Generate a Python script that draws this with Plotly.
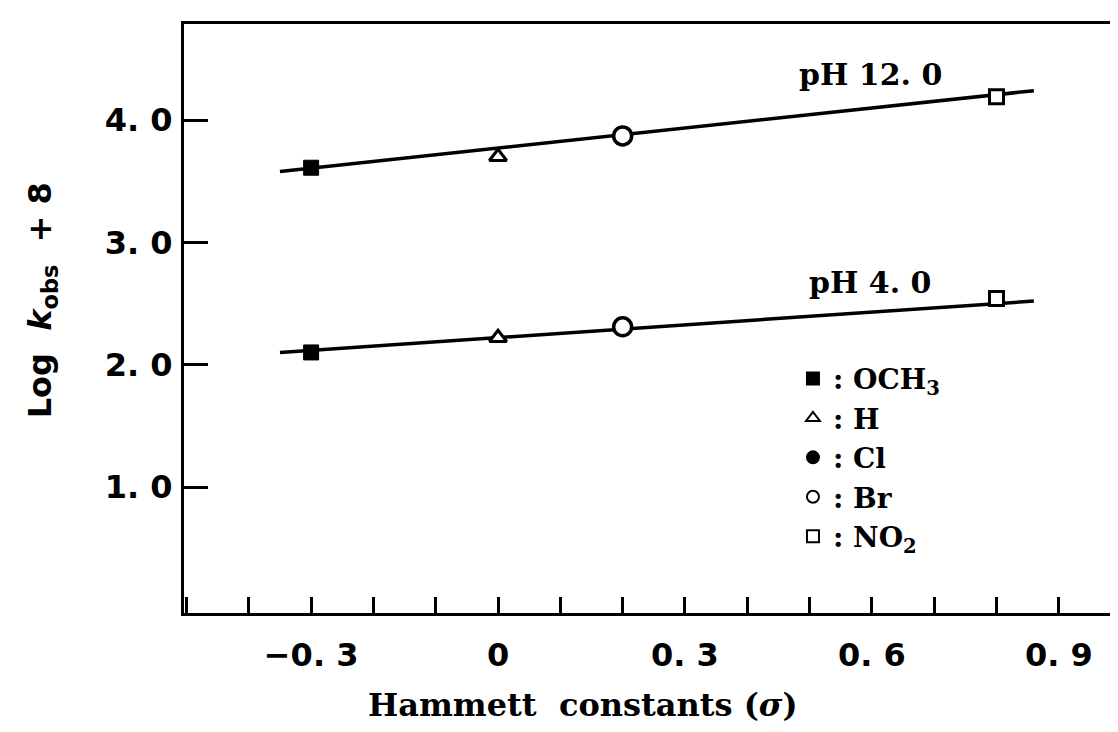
import plotly.graph_objects as go

# ---- data ----
substituents = ["OCH3", "H", "Cl", "Br", "NO2"]
legend_names = [": OCH<sub>3</sub>", ": H", ": Cl", ": Br", ": NO<sub>2</sub>"]
sigma_vals = [-0.30, 0.00, 0.20, 0.20, 0.80]
logk_ph12 = [3.61, 3.70, 3.87, 3.87, 4.19]
logk_ph4 = [2.10, 2.22, 2.31, 2.31, 2.54]

fit_sigma = [-0.35, 0.86]
fit_ph12 = [3.58, 4.24]
fit_ph4 = [2.10, 2.52]

x_tickvals = [-0.3, 0.0, 0.3, 0.6, 0.9]
x_ticktext = ["\u22120.\u00a03", "0", "0.\u00a03", "0.\u00a06", "0.\u00a09"]
y_tickvals = [1.0, 2.0, 3.0, 4.0]
y_ticktext = ["1.\u00a00", "2.\u00a00", "3.\u00a00", "4.\u00a00"]

# ---- styles ----
marker_styles = {
    "OCH3": dict(symbol="square", size=15, color="black", line=dict(color="black", width=1)),
    "H": dict(symbol="triangle-up", size=15, color="white", line=dict(color="black", width=3)),
    "Cl": dict(symbol="circle", size=18, color="black", line=dict(color="black", width=1)),
    "Br": dict(symbol="circle", size=18, color="white", line=dict(color="black", width=3.5)),
    "NO2": dict(symbol="square", size=14, color="white", line=dict(color="black", width=3)),
}

fig = go.Figure()

for yfit in (fit_ph12, fit_ph4):
    fig.add_trace(go.Scatter(x=fit_sigma, y=yfit, mode="lines",
                             line=dict(color="black", width=3.5),
                             showlegend=False, hoverinfo="skip"))

for i, sub in enumerate(substituents):
    fig.add_trace(go.Scatter(
        x=[sigma_vals[i], sigma_vals[i]],
        y=[logk_ph12[i], logk_ph4[i]],
        mode="markers",
        name=legend_names[i],
        marker=marker_styles[sub],
    ))

serif = "DejaVu Serif"
sans = "DejaVu Sans"

fig.add_annotation(x=0.597, y=4.37, xref="x", yref="y", text="<b>pH 12.\u00a00</b>",
                   showarrow=False, font=dict(family=serif, size=30, color="black"))
fig.add_annotation(x=0.597, y=2.67, xref="x", yref="y", text="<b>pH 4.\u00a00</b>",
                   showarrow=False, font=dict(family=serif, size=30, color="black"))

# axis titles
fig.add_annotation(x=0.427, y=-0.156, xref="paper", yref="paper",
                   xanchor="center", yanchor="middle",
                   text="<b>Hammett\u00a0\u00a0constants (<i>σ</i>)</b>",
                   showarrow=False, font=dict(family=serif, size=32, color="black"))
fig.add_annotation(x=-0.152, y=0.531, xref="paper", yref="paper",
                   xanchor="center", yanchor="middle",
                   text="<b>Log\u00a0 <i>k</i><sub>obs</sub>\u00a0 + 8</b>", textangle=-90,
                   showarrow=False, font=dict(family=sans, size=32, color="black"))

fig.update_layout(
    width=1110, height=724,
    margin=dict(l=176, r=0, t=16, b=119),
    paper_bgcolor="white", plot_bgcolor="white",
    showlegend=True,
    legend=dict(x=0.652, y=0.44, xanchor="left", yanchor="top",
                bgcolor="rgba(0,0,0,0)", itemsizing="constant",
                font=dict(family=serif, size=28, color="black", weight="bold")),
    xaxis=dict(range=[-0.504, 0.995], showgrid=False, zeroline=False,
               showline=True, linecolor="black", linewidth=3, mirror=True,
               ticks="inside", ticklen=16, tickwidth=2.5, tickcolor="black",
               tickvals=x_tickvals, ticktext=x_ticktext,
               tickfont=dict(family=sans, size=32, color="black", weight="bold"),
               ticklabelstandoff=12,
               minor=dict(ticks="inside", dtick=0.1, tick0=0, ticklen=16,
                          tickwidth=2.5, tickcolor="black", showgrid=False)),
    yaxis=dict(range=[-0.03, 4.785], showgrid=False, zeroline=False,
               showline=True, linecolor="black", linewidth=3, mirror=False,
               ticks="inside", ticklen=24, tickwidth=2.5, tickcolor="black",
               tickvals=y_tickvals, ticktext=y_ticktext,
               tickfont=dict(family=sans, size=32, color="black", weight="bold"),
               ticklabelstandoff=2),
)

fig.write_html("out.html")
